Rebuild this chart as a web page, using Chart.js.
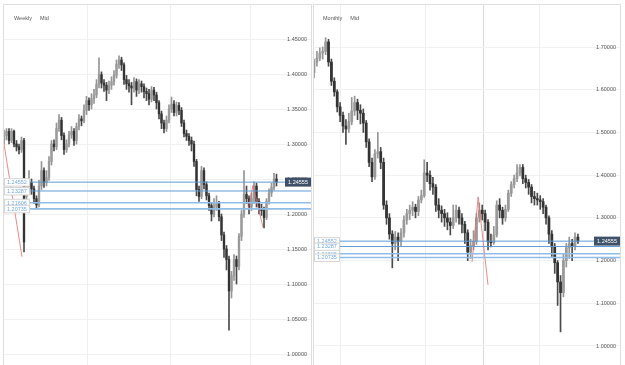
<!DOCTYPE html>
<html>
<head>
<meta charset="utf-8">
<script src="https://cdn.jsdelivr.net/npm/chart.js@4.4.1/dist/chart.umd.min.js"></script>
<style>
  body { margin: 0; background: #fff; }
  #wrap { position: relative; width: 625px; height: 365px; overflow: hidden; background: #fff; }
  canvas { position: absolute; top: 0; }
  #weekly { left: 0; }
  #monthly { left: 312px; }
</style>
</head>
<body>
<div id="wrap">
  <canvas id="weekly" width="312" height="365"></canvas>
  <canvas id="monthly" width="313" height="365"></canvas>
</div>
<script>
// weekly candles
const weeklyOpen = [1.305,1.312,1.318,1.305,1.318,1.300,1.296,1.292,1.305,1.225,
  1.238,1.245,1.236,1.222,1.213,1.240,1.262,1.245,1.252,1.275,
  1.300,1.296,1.322,1.334,1.312,1.292,1.300,1.313,1.318,1.305,
  1.325,1.336,1.333,1.348,1.362,1.356,1.365,1.370,1.385,1.399,
  1.387,1.384,1.377,1.384,1.389,1.398,1.414,1.420,1.413,1.392,
  1.386,1.383,1.380,1.389,1.377,1.386,1.382,1.375,1.372,1.364,
  1.377,1.370,1.359,1.343,1.330,1.322,1.334,1.350,1.357,1.345,
  1.355,1.348,1.330,1.315,1.311,1.305,1.300,1.275,1.235,1.225,
  1.262,1.242,1.226,1.212,1.200,1.210,1.215,1.196,1.170,1.150,
  1.135,1.090,1.112,1.135,1.125,1.168,1.200,1.228,1.222,1.210,
  1.222,1.240,1.218,1.207,1.205,1.195,1.218,1.230,1.238,1.250]
const weeklyHigh = [1.320,1.322,1.322,1.322,1.320,1.305,1.300,1.310,1.308,1.250,
  1.262,1.250,1.240,1.226,1.248,1.275,1.266,1.262,1.282,1.305,
  1.306,1.330,1.342,1.338,1.316,1.306,1.318,1.325,1.322,1.330,
  1.342,1.340,1.356,1.368,1.366,1.372,1.378,1.392,1.423,1.403,
  1.392,1.388,1.390,1.396,1.405,1.420,1.426,1.424,1.416,1.398,
  1.392,1.388,1.395,1.393,1.392,1.390,1.386,1.380,1.378,1.382,
  1.381,1.374,1.362,1.347,1.334,1.340,1.356,1.367,1.362,1.360,
  1.359,1.352,1.334,1.320,1.315,1.310,1.304,1.278,1.240,1.268,
  1.266,1.246,1.230,1.216,1.222,1.226,1.218,1.200,1.174,1.155,
  1.140,1.118,1.142,1.140,1.172,1.205,1.262,1.240,1.226,1.230,
  1.246,1.244,1.222,1.214,1.210,1.222,1.236,1.244,1.258,1.257]
const weeklyLow = [1.300,1.306,1.300,1.302,1.296,1.290,1.286,1.288,1.146,1.215,
  1.230,1.228,1.215,1.207,1.210,1.235,1.238,1.240,1.248,1.270,
  1.290,1.292,1.318,1.306,1.285,1.288,1.296,1.308,1.298,1.300,
  1.320,1.326,1.330,1.342,1.348,1.350,1.358,1.366,1.380,1.380,
  1.375,1.362,1.372,1.378,1.384,1.394,1.408,1.405,1.385,1.378,
  1.374,1.356,1.374,1.368,1.372,1.374,1.366,1.362,1.356,1.360,
  1.362,1.350,1.336,1.322,1.316,1.318,1.330,1.345,1.340,1.340,
  1.342,1.325,1.310,1.305,1.298,1.290,1.268,1.226,1.218,1.222,
  1.236,1.220,1.205,1.190,1.196,1.205,1.190,1.162,1.138,1.120,
  1.034,1.080,1.105,1.100,1.120,1.162,1.195,1.215,1.200,1.205,
  1.215,1.210,1.200,1.198,1.180,1.192,1.214,1.225,1.234,1.240]
const weeklyClose = [1.312,1.318,1.305,1.318,1.300,1.296,1.292,1.305,1.160,1.238,
  1.245,1.236,1.222,1.213,1.240,1.262,1.245,1.252,1.275,1.300,
  1.296,1.322,1.334,1.312,1.292,1.300,1.313,1.318,1.305,1.325,
  1.336,1.333,1.348,1.362,1.356,1.365,1.370,1.385,1.399,1.387,
  1.384,1.377,1.384,1.389,1.398,1.414,1.420,1.413,1.392,1.386,
  1.383,1.380,1.389,1.377,1.386,1.382,1.375,1.372,1.364,1.377,
  1.370,1.359,1.343,1.330,1.322,1.334,1.350,1.357,1.345,1.355,
  1.348,1.330,1.315,1.311,1.305,1.300,1.275,1.235,1.225,1.262,
  1.242,1.226,1.212,1.200,1.210,1.215,1.196,1.170,1.150,1.135,
  1.090,1.112,1.135,1.125,1.168,1.200,1.228,1.222,1.210,1.222,
  1.240,1.218,1.207,1.205,1.195,1.218,1.230,1.238,1.250,1.24555]

// monthly candles (right panel)
const monthlyOpen = [1.640,1.665,1.674,1.686,1.690,1.712,1.665,1.620,1.595,1.560,
  1.540,1.515,1.508,1.525,1.550,1.570,1.552,1.545,1.522,1.478,
  1.430,1.396,1.450,1.455,1.430,1.330,1.300,1.262,1.240,1.255,
  1.245,1.265,1.295,1.310,1.318,1.325,1.315,1.342,1.352,1.405,
  1.400,1.380,1.372,1.330,1.318,1.310,1.300,1.290,1.282,1.300,
  1.318,1.300,1.285,1.265,1.220,1.235,1.245,1.300,1.318,1.310,
  1.290,1.245,1.242,1.260,1.330,1.318,1.300,1.320,1.358,1.378,
  1.392,1.405,1.418,1.392,1.383,1.372,1.350,1.345,1.342,1.338,
  1.325,1.300,1.262,1.232,1.195,1.150,1.125,1.200,1.230,1.240,
  1.235,1.255]
const monthlyHigh = [1.672,1.690,1.698,1.700,1.722,1.718,1.672,1.628,1.600,1.570,
  1.548,1.530,1.545,1.582,1.585,1.578,1.565,1.555,1.528,1.485,
  1.440,1.460,1.500,1.465,1.440,1.340,1.310,1.270,1.268,1.265,
  1.275,1.305,1.320,1.330,1.338,1.332,1.350,1.365,1.436,1.430,
  1.410,1.395,1.378,1.345,1.328,1.320,1.312,1.300,1.330,1.330,
  1.325,1.310,1.292,1.272,1.250,1.270,1.310,1.335,1.330,1.318,
  1.296,1.262,1.280,1.340,1.345,1.325,1.330,1.365,1.385,1.400,
  1.425,1.425,1.425,1.400,1.390,1.378,1.362,1.358,1.352,1.345,
  1.330,1.305,1.270,1.240,1.200,1.165,1.215,1.240,1.255,1.250,
  1.265,1.262]
const monthlyLow = [1.628,1.655,1.668,1.672,1.682,1.655,1.610,1.585,1.548,1.525,
  1.500,1.472,1.500,1.518,1.540,1.530,1.520,1.500,1.465,1.420,
  1.385,1.390,1.440,1.415,1.320,1.285,1.250,1.183,1.225,1.200,
  1.235,1.255,1.285,1.296,1.305,1.300,1.305,1.335,1.348,1.385,
  1.365,1.355,1.315,1.300,1.290,1.280,1.272,1.260,1.275,1.290,
  1.285,1.265,1.240,1.200,1.205,1.225,1.238,1.290,1.295,1.270,
  1.225,1.232,1.238,1.255,1.300,1.285,1.292,1.315,1.350,1.370,
  1.385,1.398,1.380,1.370,1.355,1.335,1.330,1.330,1.320,1.310,
  1.285,1.240,1.210,1.170,1.095,1.033,1.115,1.185,1.205,1.200,
  1.225,1.240]
const monthlyClose = [1.665,1.674,1.686,1.690,1.712,1.665,1.620,1.595,1.560,1.540,
  1.515,1.508,1.525,1.550,1.570,1.552,1.545,1.522,1.478,1.430,
  1.396,1.450,1.455,1.430,1.330,1.300,1.262,1.240,1.255,1.245,
  1.265,1.295,1.310,1.318,1.325,1.315,1.342,1.352,1.405,1.400,
  1.380,1.372,1.330,1.318,1.310,1.300,1.290,1.282,1.300,1.318,
  1.300,1.285,1.265,1.220,1.235,1.245,1.300,1.318,1.310,1.290,
  1.245,1.242,1.260,1.330,1.318,1.300,1.320,1.358,1.378,1.392,
  1.405,1.418,1.392,1.383,1.372,1.350,1.345,1.342,1.338,1.325,
  1.300,1.262,1.232,1.195,1.150,1.125,1.200,1.230,1.240,1.235,
  1.255,1.24555]

// horizontal levels and current price
const levels = [1.24552, 1.23287, 1.21606, 1.20735]
const lastPrice = 1.24555

// axis ticks
const weeklyTicks = [1.00, 1.05, 1.10, 1.15, 1.20, 1.25, 1.30, 1.35, 1.40, 1.45]
const monthlyTicks = [1.0, 1.1, 1.2, 1.3, 1.4, 1.5, 1.6, 1.7]
// time gridlines (candle index)
const weeklyGrid = [33.2, 66.4, 98.4]
const monthlyGrid = [9.3, 38.6, 58.3, 77.6]

// red drawn lines (candle index / price)
const weeklyRedIdx = [-0.4, 7.2, null, 97.6, 99.6, 103.6]
const weeklyRedPrice = [1.309, 1.139, null, 1.206, 1.241, 1.181]
const monthlyRedIdx = [54.5, 56.6, 60]
const monthlyRedPrice = [1.197, 1.349, 1.143]

const FONT = '"Liberation Sans", Arial, sans-serif'

const overlay = {
  id: "overlay",
  afterDraw(chart, args, opts) {
    const { ctx, chartArea: a } = chart
    const y = chart.scales.y
    ctx.save()
    // panel frame
    ctx.strokeStyle = "#dedede"
    ctx.lineWidth = 1
    ctx.beginPath()
    ctx.moveTo(a.left + 0.5, a.bottom)
    ctx.lineTo(a.left + 0.5, a.top + 0.5)
    ctx.lineTo(a.right - 0.5, a.top + 0.5)
    ctx.lineTo(a.right - 0.5, a.bottom)
    ctx.stroke()

    // title
    ctx.font = "5.5px " + FONT
    ctx.fillStyle = "#555"
    ctx.textBaseline = "middle"
    ctx.textAlign = "left"
    ctx.fillText(opts.title, a.left + opts.titleX, 18.5)
    const tw = ctx.measureText(opts.title).width
    ctx.fillText("Mid", a.left + opts.titleX + tw + 8, 18.5)

    // level labels
    levels.forEach((v) => {
      const py = y.getPixelForValue(v)
      ctx.fillStyle = "#fff"
      ctx.fillRect(a.left + 1.5, py - 3.5, 25, 7.5)
      ctx.strokeStyle = "#d4d4d4"
      ctx.strokeRect(a.left + 1.5, py - 3.5, 25, 7.5)
      ctx.fillStyle = "#72a9dd"
      ctx.fillText(v.toFixed(5), a.left + 4, py + 0.3)
    })

    // price tag
    const ty = y.getPixelForValue(lastPrice)
    ctx.fillStyle = "#3f5168"
    ctx.fillRect(a.right - 27, ty - 4.5, 26, 9)
    ctx.fillStyle = "#fff"
    ctx.textAlign = "center"
    ctx.fillText(lastPrice.toFixed(5), a.right - 14, ty + 0.3)
    ctx.restore()
  },
}

function drawCandles(id, o, h, l, c, set) {
  const up = c.map((v, i) => v >= o[i])
  const bodyCol = up.map((u) => (u ? "#9a9a9a" : "#333333"))
  const wickCol = up.map((u) => (u ? "#959595" : "#4a4a4a"))

  const levelSets = levels.map((v, i) => ({
    type: "line",
    data: [{ x: set.xMin, y: v }, { x: set.xMax, y: v }],
    borderColor: i < 2 ? "#5d9bd6" : "#8fbde9",
    borderWidth: i < 2 ? 1 : 1.6,
    pointRadius: 0,
    order: 0,
  }))

  new Chart(document.getElementById(id), {
    type: "bar",
    data: {
      datasets: [
        {
          data: l.map((v, i) => ({ x: i, y: [v, h[i]] })),
          backgroundColor: wickCol,
          barThickness: 1,
          grouped: false,
          order: 3,
        },
        {
          data: o.map((v, i) => ({ x: i, y: [v, c[i]] })),
          backgroundColor: bodyCol,
          barThickness: set.body,
          minBarLength: 1,
          grouped: false,
          order: 2,
        },
        {
          type: "line",
          data: set.redIdx.map((v, i) => ({ x: v === null ? (set.redIdx[i - 1] + set.redIdx[i + 1]) / 2 : v, y: set.redPrice[i] })),
          borderColor: "#e46b6b",
          borderWidth: 0.8,
          pointRadius: 0,
          spanGaps: false,
          order: 1,
        },
        ...levelSets,
      ],
    },
    options: {
      responsive: false,
      animation: false,
      devicePixelRatio: 1,
      layout: { padding: set.pad },
      plugins: {
        legend: { display: false },
        tooltip: { enabled: false },
        overlay: { title: set.title, titleX: set.titleX },
      },
      scales: {
        x: {
          type: "linear",
          offset: false,
          min: set.xMin,
          max: set.xMax,
          ticks: { display: false },
          border: { display: false },
          grid: {
            offset: false,
            drawTicks: false,
            color: (ctx) => (ctx.tick && ctx.tick.value === set.darkGrid ? "#dadada" : "#efefef"),
          },
          afterBuildTicks: (s) => {
            s.ticks = set.grid.map((v) => ({ value: v }))
          },
          afterFit: (s) => {
            s.height = 0
            s.paddingLeft = 0
            s.paddingRight = 0
          },
        },
        y: {
          position: "right",
          min: set.yMin,
          max: set.yMax,
          border: { display: false },
          grid: { drawTicks: false, color: "#f1f1f1" },
          ticks: {
            mirror: true,
            padding: -5,
            color: "#555",
            font: { family: FONT, size: 5.5 },
            callback: (v) => Number(v).toFixed(5),
          },
          afterBuildTicks: (s) => {
            s.ticks = set.ticks.map((v) => ({ value: v }))
          },
          afterFit: (s) => {
            s.width = 0
            s.paddingTop = 0
            s.paddingBottom = 0
          },
        },
      },
    },
    plugins: [overlay],
  })
}

drawCandles("weekly", weeklyOpen, weeklyHigh, weeklyLow, weeklyClose, {
  title: "Weekly", titleX: 11,
  pad: { left: 3, top: 4, right: 0, bottom: 0 },
  xMin: -0.4, xMax: 123.2, yMin: 0.98429, yMax: 1.5,
  body: 1.7, ticks: weeklyTicks, grid: weeklyGrid, darkGrid: null,
  redIdx: weeklyRedIdx, redPrice: weeklyRedPrice,
})

drawCandles("monthly", monthlyOpen, monthlyHigh, monthlyLow, monthlyClose, {
  title: "Monthly", titleX: 10,
  pad: { left: 1, top: 4, right: 4, bottom: 0 },
  xMin: -0.35, xMax: 105.85, yMin: 0.9555, yMax: 1.8008,
  body: 2.1, ticks: monthlyTicks, grid: monthlyGrid, darkGrid: 58.3,
  redIdx: monthlyRedIdx, redPrice: monthlyRedPrice,
})
</script>
</body>
</html>
